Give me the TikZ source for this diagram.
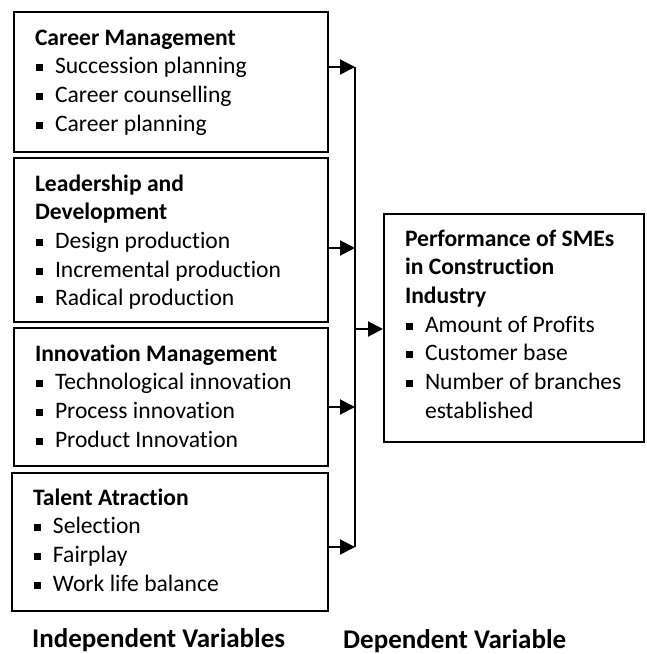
\documentclass[tikz,border=0pt]{standalone}
\usepackage{fontspec}
\setmainfont{Carlito}[Ligatures=NoCommon]
\usetikzlibrary{arrows.meta}
\newcommand{\bul}{\makebox[20pt][l]{\hspace{1pt}\rule[2.5pt]{7pt}{7pt}}}
\tikzset{
  varbox/.style={draw, line width=2pt, anchor=north west, align=flush left,
    inner xsep=21pt, inner ysep=0pt, text height=33pt,
    font=\fontsize{23.6}{28.7}\selectfont,
    execute at begin node={\spaceskip=0pt\xspaceskip=0pt}},
  link/.style={line width=2pt},
  arr/.style={link, -{Triangle[length=15pt,width=15pt]}},
  varlabel/.style={anchor=base west, inner sep=0pt,
    font=\fontsize{27}{32}\selectfont\bfseries}
}
\begin{document}
\begin{tikzpicture}[x=1pt,y=-1pt]
\useasboundingbox (0,0) rectangle (647,654);

\node[varbox, text width=272pt, text depth=107pt] (cm) at (13,11)
  {\textbf{Career Management}\\
   \bul Succession planning\\
   \bul Career counselling\\
   \bul Career planning};
\node[varbox, text width=272pt, text depth=131pt] (ld) at (13,157)
  {\textbf{Leadership and}\\
   \textbf{Development}\\
   \bul Design production\\
   \bul Incremental production\\
   \bul Radical production};
\node[varbox, text width=272pt, text depth=105pt] (im) at (13,327)
  {\textbf{Innovation Management}\\
   \bul Technological innovation\\
   \bul Process innovation\\
   \bul Product Innovation};
\node[varbox, text width=274pt, text depth=106pt, text height=32pt] (ta) at (11,472)
  {\textbf{Talent Atraction}\\
   \bul Selection\\
   \bul Fairplay\\
   \bul Work life balance};

\node[varbox, text width=218pt, text depth=196pt, text height=32pt] (perf) at (383,213)
  {\textbf{Performance of SMEs}\\
   \textbf{in Construction}\\
   \textbf{Industry}\\
   \bul Amount of Profits\\
   \bul Customer base\\
   \mbox{\bul Number of branches}\\
   \hspace*{20pt}established};

\coordinate (j1) at (355,67);
\coordinate (j2) at (355,248);
\coordinate (j3) at (355,407);
\coordinate (j4) at (355,547);
\coordinate (jc) at (355,329);

\draw[link] (j1) -- (j4);
\draw[arr] (cm.east |- j1) -- (j1);
\draw[arr] (ld.east |- j2) -- (j2);
\draw[arr] (im.east |- j3) -- (j3);
\draw[arr] (ta.east |- j4) -- (j4);
\draw[arr] (jc) -- (perf.west |- jc);

\node[varlabel] (iv) at (32,647) {Independent Variables};
\node[varlabel] (dv) at (343,648) {Dependent Variable};
\end{tikzpicture}
\end{document}
